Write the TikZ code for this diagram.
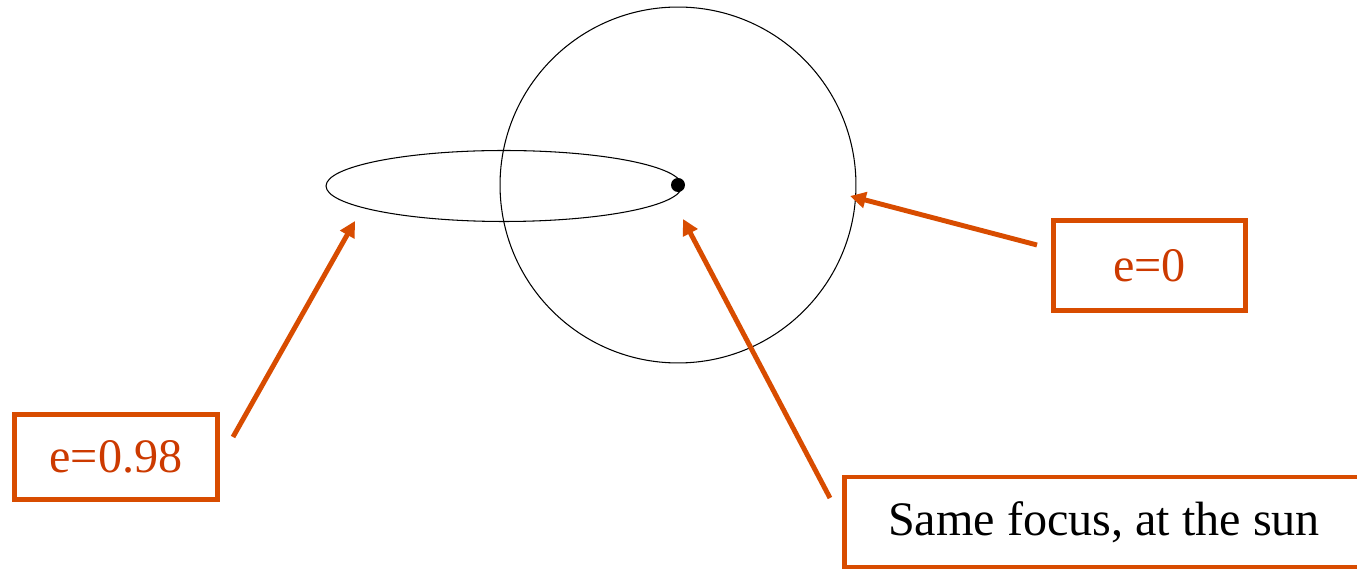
\documentclass[tikz,border=0pt]{standalone}
\usepackage{fontspec}
\setmainfont{Liberation Serif}
\usetikzlibrary{arrows.meta}
\definecolor{burnt}{RGB}{216,76,0}
\definecolor{rust}{RGB}{204,58,0}
\tikzset{
  tag/.style={draw=burnt, line width=2.8pt, inner sep=0pt, font=\fontsize{27.4}{31}\selectfont},
  pointer/.style={draw=burnt, line width=2.8pt, -{Triangle[length=9pt,width=9pt]}},
  orbit/.style={line width=0.6pt}
}
\begin{document}
\begin{tikzpicture}[x=0.02cm, y=-0.02cm]
\useasboundingbox (0,0) rectangle (1357,570);
% the two orbits share one focus
\coordinate (sun) at (678,185);
\draw[orbit] (sun) circle [radius=3.56cm];
\draw[orbit] (504,186) ellipse [x radius=3.56cm, y radius=0.71cm];
\fill (sun) circle [radius=0.14cm];
% labels
\node[tag, text=rust, minimum width=3.84cm, minimum height=1.8cm] (circ) at (1149.5,265.5) {e=0};
\node[tag, text=rust, minimum width=4.06cm, minimum height=1.7cm] (flat) at (116,457) {e=0.98};
\node[tag, minimum width=10.38cm, minimum height=1.8cm] (focus) at (1104,522) {Same focus, at the sun};
% arrow ends
\coordinate (circTail) at (1037,245);
\coordinate (circTip) at (850,196);
\coordinate (flatTail) at (233,437);
\coordinate (flatTip) at (355,221);
\coordinate (focusTail) at (830,498);
\coordinate (focusTip) at (683,219);
\draw[pointer] (circTail) -- (circTip);
\draw[pointer] (flatTail) -- (flatTip);
\draw[pointer] (focusTail) -- (focusTip);
\end{tikzpicture}
\end{document}
